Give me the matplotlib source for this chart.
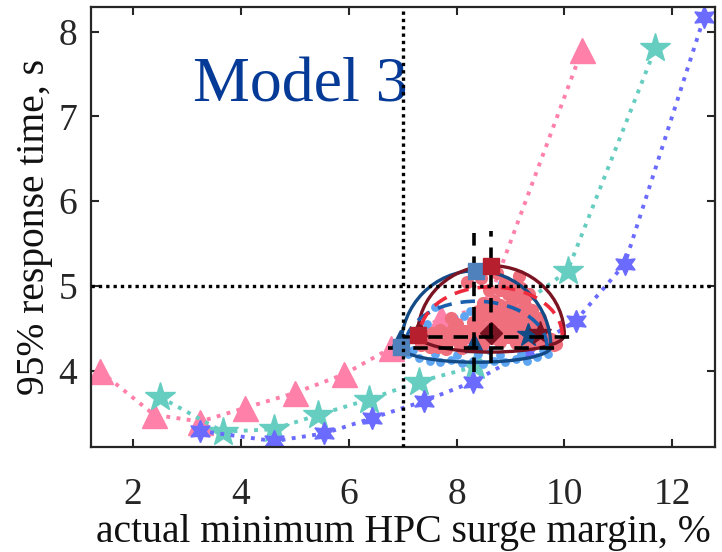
import matplotlib
matplotlib.use("Agg")
import matplotlib.pyplot as plt
from matplotlib.patches import Arc

plt.rcParams['font.family'] = ['Liberation Serif', 'DejaVu Serif']
plt.rcParams['mathtext.fontset'] = 'stix'

# dotted series (sweeps)
tri_x = [1.38, 2.39, 3.25, 4.07, 5.01, 5.92, 6.79, 7.71, 8.55, 10.33]
tri_y = [4.00, 3.48, 3.40, 3.56, 3.74, 3.96, 4.27, 4.62, 4.75, 7.79]
star_x = [2.50, 3.67, 4.61, 5.44, 6.37, 7.30, 8.35, 9.05, 10.06, 11.69]
star_y = [3.69, 3.28, 3.31, 3.48, 3.66, 3.87, 4.05, 4.70, 5.18, 7.81]
hex_x = [3.24, 4.61, 5.55, 6.43, 7.39, 8.31, 9.30, 10.21, 11.12, 12.59]
hex_y = [3.29, 3.17, 3.26, 3.44, 3.64, 3.87, 4.22, 4.59, 5.26, 8.17]

# Monte-Carlo clouds
red_x = [7.45, 7.6, 7.75, 7.9, 8.05, 8.2, 8.35, 8.5, 8.65, 8.8, 8.95, 9.1, 9.25, 9.4, 9.55, 9.7,
         7.7, 7.95, 8.15, 8.4, 8.6, 8.75, 8.9, 9.05, 9.2, 9.35, 9.5, 8.55, 8.85, 9.0, 9.15, 8.7,
         8.95, 9.1, 8.8, 9.25, 8.45, 8.3, 9.3, 9.45, 9.0, 8.9, 9.2, 8.6, 8.5,
         8.2, 8.45, 9.15, 8.75, 7.9, 7.55, 9.6, 9.35, 7.5, 7.8, 8.1, 8.25, 9.65, 9.8,
         7.55, 7.85, 8.0, 8.3, 8.55, 8.7, 8.85, 9.05, 9.2, 9.4, 9.6, 8.9, 9.1, 8.65, 9.3,
         8.4, 8.95, 9.05, 8.8, 9.4, 8.65, 9.2, 8.35, 9.5, 7.35, 7.65, 9.75, 9.85, 8.0, 9.55]
red_y = [4.32, 4.36, 4.31, 4.38, 4.33, 4.40, 4.36, 4.31, 4.39, 4.34, 4.40, 4.33, 4.38, 4.31, 4.36, 4.33,
         4.48, 4.52, 4.47, 4.55, 4.50, 4.60, 4.52, 4.62, 4.55, 4.50, 4.46, 4.68, 4.72, 4.78, 4.70, 4.82,
         4.90, 4.86, 4.95, 4.82, 4.62, 4.58, 4.66, 4.60, 5.00, 5.05, 4.98, 4.95, 4.80,
         5.05, 5.10, 5.12, 5.15, 4.62, 4.45, 4.50, 4.90, 4.28, 4.26, 4.27, 4.48, 4.42, 4.30,
         4.40, 4.44, 4.42, 4.45, 4.43, 4.46, 4.44, 4.46, 4.44, 4.42, 4.40, 4.62, 4.55, 4.62, 4.74,
         4.70, 4.66, 4.90, 4.78, 4.72, 4.72, 4.90, 4.50, 4.56, 4.30, 4.28, 4.38, 4.32, 4.55, 4.62]
blue_x = [7.1, 7.3, 7.5, 7.7, 7.9, 8.1, 8.3, 8.5, 8.7, 8.9, 9.1, 9.3, 9.5, 9.7,
          7.2, 7.6, 8.0, 8.4, 8.8, 9.2, 9.6,
          7.6, 7.95, 8.14, 8.25, 8.47, 8.85, 9.0, 8.7, 7.45, 9.45, 8.6, 8.15]
blue_y = [4.20, 4.15, 4.12, 4.10, 4.13, 4.09, 4.12, 4.08, 4.11, 4.10, 4.14, 4.12, 4.16, 4.20,
          4.24, 4.20, 4.18, 4.20, 4.18, 4.20, 4.25,
          4.75, 4.62, 4.65, 4.70, 4.77, 5.04, 4.58, 4.45, 4.55, 4.35, 4.25, 4.40]

# confidence regions: centre x, centre y, half width, upper height, lower height
blue_ell = [8.36, 4.28, 1.39, 0.90, 0.18]
red_ell = [8.64, 4.42, 1.36, 0.82, 0.20]
blue_dash = [8.36, 4.28, 1.32, 0.54]
red_dash = [8.64, 4.42, 1.32, 0.57]

# square markers and error bars
sq_blue_x = [8.36, 6.97]
sq_blue_y = [5.18, 4.28]
sq_red_x = [8.64, 7.28]
sq_red_y = [5.24, 4.42]
eb_blue = [8.33, 4.27, 6.72, 9.84, 3.99, 5.62]  # x, y, xmin, xmax, ymin, ymax
eb_red = [8.64, 4.40, 7.00, 10.12, 4.09, 5.65]

x_limit = 7
y_limit = 5
xticks = [2, 4, 6, 8, 10, 12]
yticks = [4, 5, 6, 7, 8]

fig = plt.figure(figsize=(7.22, 5.52), dpi=100)
ax = fig.add_axes([0.126, 0.191, 0.864, 0.796])

ax.plot(tri_x, tri_y, ':', color='#ff80a8', lw=2.8, marker='^', ms=18, mec='#ff80a8', zorder=2)
ax.plot(star_x, star_y, ':', color='#66cdc1', lw=2.8, marker='*', ms=22, mec='#66cdc1', zorder=2)
ax.plot(hex_x, hex_y, ':', color='#6b6bff', lw=2.8, marker=(6, 1, 0), ms=16, mec='#6b6bff', zorder=2)

ax.scatter(blue_x, blue_y, s=40, color='#5ea5f2', lw=0, zorder=3)
ax.scatter(red_x, red_y, s=90, color='#ef6f7c', lw=0, zorder=3)

# dark markers inside the cluster
ax.plot([8.33, 6.95], [4.33, 4.38], '^', color='#134b87', ms=13, zorder=4)
ax.plot([9.32], [4.42], '*', color='#134b87', ms=17, zorder=4)
ax.plot([8.64], [4.45], 'D', color='#7a1423', ms=11, zorder=4)
ax.plot([9.55], [4.45], '*', color='#7a1423', ms=17, zorder=4)
ax.plot([7.3], [4.5], '^', color='#7a1423', ms=12, zorder=4)

for e, c in [(blue_ell, '#134b87'), (red_ell, '#7a1423')]:
    ax.add_patch(Arc((e[0], e[1]), 2 * e[2], 2 * e[3], theta1=0, theta2=180, color=c, lw=2.4, zorder=5))
    ax.add_patch(Arc((e[0], e[1]), 2 * e[2], 2 * e[4], theta1=180, theta2=360, color=c, lw=2.4, zorder=5))
for e, c in [(blue_dash, '#1a5fae'), (red_dash, '#ee2a3d')]:
    ax.add_patch(Arc((e[0], e[1]), 2 * e[2], 2 * e[3], theta1=0, theta2=180, color=c, lw=2.6,
                     ls=(0, (4, 2.5)), zorder=5))

for eb in [eb_blue, eb_red]:
    ax.plot([eb[2], eb[3]], [eb[1], eb[1]], color='black', lw=2.6, ls=(0, (4, 3)), zorder=6)
    ax.plot([eb[0], eb[0]], [eb[4], eb[5]], color='black', lw=2.6, ls=(0, (4, 3)), zorder=6)

ax.plot(sq_blue_x, sq_blue_y, 's', color='#4f81bd', ms=12, zorder=7)
ax.plot(sq_red_x, sq_red_y, 's', color='#b51f2e', ms=12, zorder=7)

ax.axvline(x_limit, color='black', lw=2.4, ls=(0, (1, 1.2)), zorder=8)
ax.axhline(y_limit, color='black', lw=2.4, ls=(0, (1, 1.2)), zorder=8)

ax.text(5.10, 7.18, 'Model 3', color='#063a97', fontsize=46, ha='center', va='baseline')

ax.set_xlim(1.22, 12.79)
ax.set_ylim(3.105, 8.29)
ax.set_xticks(xticks)
ax.set_xticklabels([str(t) for t in xticks], fontfamily='Liberation Serif')
ax.set_yticks(yticks)
ax.set_yticklabels([str(t) for t in yticks], fontfamily='Liberation Serif')
ax.tick_params(direction='in', top=True, right=True, length=6, width=1.5, colors='#262626',
               labelsize=27)
ax.tick_params(axis='x', pad=22)
ax.tick_params(axis='y', pad=10)
for s in ax.spines.values():
    s.set_linewidth(1.6)
    s.set_color('#262626')

ax.set_xlabel('actual minimum HPC surge margin, %', fontsize=28.5, color='#111111', labelpad=2)
ax.set_ylabel('95% response time, s', fontsize=28.5, color='#111111', labelpad=4)

fig.savefig('out.png', dpi=100)
